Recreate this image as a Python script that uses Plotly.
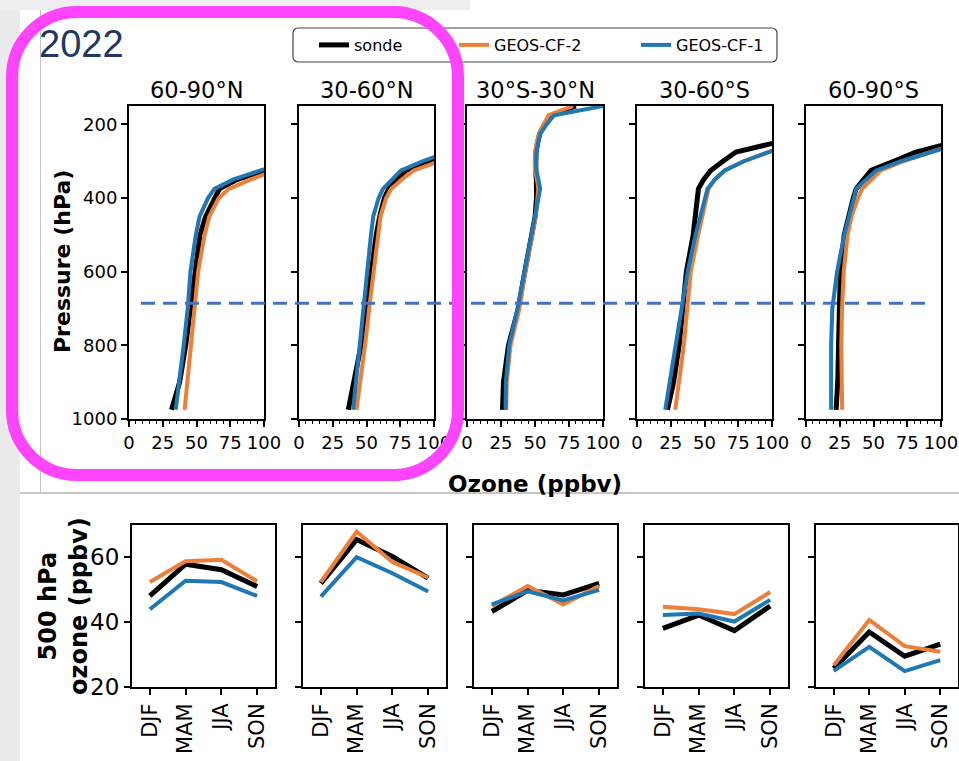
import plotly.graph_objects as go

W, H = 959, 761

# ---------------- data ----------------
regions = ["60-90°N", "30-60°N", "30°S-30°N", "30-60°S", "60-90°S"]
series_names = ["sonde", "GEOS-CF-2", "GEOS-CF-1"]
pressure = [975, 900, 800, 700, 600, 500, 450, 400, 375, 350, 325, 300, 275, 250, 225, 200, 175, 150]

sonde_6090N = [31.5, 37.5, 42, 45.7, 48.7, 52.6, 56.8, 63.3, 67, 80, 97, 115, 130, 150, 170, 190, 210, 240]
cf2_6090N = [41.2, 43.1, 45.8, 48.5, 51.2, 56, 59.5, 66.5, 74, 90, 111, 125, 140, 160, 180, 200, 220, 250]
cf1_6090N = [34.6, 37.3, 40.5, 43.5, 45.5, 49.5, 52.3, 58.5, 63.3, 77, 94, 115, 130, 150, 170, 190, 210, 240]

sonde_3060N = [36.5, 40.5, 46, 49.8, 53.2, 57.2, 59.8, 63.2, 66.4, 71.8, 79.3, 97.8, 115, 130, 150, 170, 190, 210]
cf2_3060N = [42.6, 45.4, 48.9, 52, 55.2, 58.7, 60.3, 64.5, 68.4, 76, 85, 104, 120, 135, 155, 175, 195, 215]
cf1_3060N = [40.1, 42.2, 44.4, 47.4, 50.7, 53.3, 55, 59, 62.2, 68.8, 75.6, 91.5, 108, 125, 145, 165, 185, 205]

sonde_trop = [26.1, 26.8, 30.5, 37.7, 42.5, 47.6, 50.1, 51.1, 51.4, 51, 50.5, 50.5, 50.7, 52, 53.4, 57, 63, 80]
cf2_trop = [28.9, 29.2, 32, 38.5, 43, 48.2, 50.6, 51.8, 52.4, 51.5, 50, 49.8, 50, 51.2, 53, 56.5, 60, 78]
cf1_trop = [28.4, 28.6, 31, 37.2, 42.3, 47.4, 50, 52.5, 53.8, 52.5, 51, 50.8, 51, 52.2, 54, 58.5, 64, 100]

sonde_3060S = [22.6, 27.1, 31.2, 34.2, 36.6, 41.6, 42.8, 44.7, 45.5, 49.3, 54.6, 63.7, 73.3, 102, 125, 145, 165, 185]
cf2_3060S = [28.3, 31.2, 34.7, 37.2, 39.8, 45.3, 48.2, 50.9, 53, 57.7, 65, 79, 96, 113, 130, 150, 170, 190]
cf1_3060S = [20.9, 24.3, 29, 33.7, 37.5, 43.4, 46.7, 50, 52.2, 57.5, 65, 79.2, 95, 112, 130, 150, 170, 190]

sonde_6090S = [22.3, 23.5, 24.1, 24.7, 25.4, 28.3, 31.2, 35, 37.1, 42.6, 48.2, 65, 81.3, 108, 125, 145, 165, 185]
cf2_6090S = [26.8, 26.5, 26.1, 26.7, 27.9, 30.8, 33.7, 38.5, 41.5, 48.5, 55.5, 72, 93, 115, 135, 155, 175, 195]
cf1_6090S = [18.6, 18.6, 18.6, 19.5, 23, 28.4, 31.7, 35.3, 37.2, 44.4, 52, 70.5, 98.2, 120, 140, 160, 180, 200]

seasons = ["DJF", "MAM", "JJA", "SON"]
sonde_500 = [[48.1, 57.9, 56.2, 51], [52, 65.5, 60.3, 53.6], [43.3, 49.8, 48.4, 52],
             [38.1, 42.2, 37.4, 45], [25.7, 37, 29.5, 33.2]]
cf2_500 = [[52.4, 58.8, 59.3, 52.6], [52.4, 67.9, 58.6, 53.8], [45, 51.2, 45.5, 51.2],
           [44.8, 44, 42.5, 49.3], [26.7, 40.7, 32.6, 30.9]]
cf1_500 = [[44, 52.8, 52.4, 48.1], [47.9, 60.1, 55.1, 49.5], [45.5, 49.5, 46.7, 50],
           [42.2, 42.7, 40.2, 46.9], [25, 32.4, 24.9, 28.3]]

ref_pressure = 686  # dashed reference level

profiles = [
    [sonde_6090N, cf2_6090N, cf1_6090N],
    [sonde_3060N, cf2_3060N, cf1_3060N],
    [sonde_trop, cf2_trop, cf1_trop],
    [sonde_3060S, cf2_3060S, cf1_3060S],
    [sonde_6090S, cf2_6090S, cf1_6090S],
]
seasonal = [sonde_500, cf2_500, cf1_500]

# ---------------- style ----------------
colors = ["#000000", "#EC7F3A", "#1F77B4"]
widths = [5, 4, 4]
FONT = "DejaVu Sans"


def px(x):
    return x / W


def py(y):
    return 1 - y / H


top_x = [(129, 264), (299, 434), (467, 603), (637, 772), (806, 941)]
top_y = (106, 419)
bot_x = [(132, 275), (303, 446), (474, 617), (645, 788), (816, 958)]
bot_y = (525, 687)

fig = go.Figure()

for i in range(5):
    ax = "" if i == 0 else str(i + 1)
    for s in range(3):
        fig.add_trace(go.Scatter(
            x=profiles[i][s], y=pressure, mode="lines",
            line=dict(color=colors[s], width=widths[s]),
            name=series_names[s], showlegend=(i == 0),
            legendwidth=[95, 137, 95][s],
            xaxis="x" + ax, yaxis="y" + ax, hoverinfo="skip"))

for j in range(5):
    ax = str(j + 6)
    for s in range(3):
        fig.add_trace(go.Scatter(
            x=seasons, y=seasonal[s][j], mode="lines",
            line=dict(color=colors[s], width=widths[s]),
            name=series_names[s], showlegend=False,
            xaxis="x" + ax, yaxis="y" + ax, hoverinfo="skip"))

axis_common = dict(showline=True, linecolor="black", linewidth=2, mirror=True,
                   ticks="outside", tickcolor="black", tickwidth=1.5, showgrid=False,
                   zeroline=False, fixedrange=True, automargin=False)

layout = {}
for i in range(5):
    k = i + 1
    xs = "xaxis" if k == 1 else f"xaxis{k}"
    ys = "yaxis" if k == 1 else f"yaxis{k}"
    layout[xs] = dict(axis_common, domain=[px(top_x[i][0]), px(top_x[i][1])],
                      anchor="y" if k == 1 else f"y{k}",
                      range=[0, 100], tickvals=[0, 25, 50, 75, 100], ticklen=6,
                      tickfont=dict(family=FONT, size=18, color="black"),
                      minor=dict(ticks="outside", ticklen=3, tickwidth=1, tickcolor="black",
                                 dtick=5, tick0=0))
    layout[ys] = dict(axis_common, domain=[py(top_y[1]), py(top_y[0])],
                      anchor="x" if k == 1 else f"x{k}",
                      range=[1000, 150], tickvals=[200, 400, 600, 800, 1000], ticklen=6,
                      showticklabels=(k == 1),
                      tickfont=dict(family=FONT, size=18, color="black"))
for j in range(5):
    k = j + 6
    layout[f"xaxis{k}"] = dict(axis_common, domain=[px(bot_x[j][0]), px(bot_x[j][1])],
                               anchor=f"y{k}", type="category",
                               categoryorder="array", categoryarray=seasons,
                               range=[-0.5, 3.5], tickangle=-90, ticklen=6,
                               tickfont=dict(family=FONT, size=21, color="black"))
    layout[f"yaxis{k}"] = dict(axis_common, domain=[py(bot_y[1]), py(bot_y[0])],
                               anchor=f"x{k}", range=[20, 70], tickvals=[20, 40, 60],
                               ticklen=6, showticklabels=(j == 0),
                               tickfont=dict(family=FONT, size=23, color="black"))


def rounded_path(x0, y0, x1, y1, r):
    k = 0.5523 * r
    pts = [
        ("M", [(x0 + r, y0)]),
        ("L", [(x1 - r, y0)]),
        ("C", [(x1 - r + k, y0), (x1, y0 + r - k), (x1, y0 + r)]),
        ("L", [(x1, y1 - r)]),
        ("C", [(x1, y1 - r + k), (x1 - r + k, y1), (x1 - r, y1)]),
        ("L", [(x0 + r, y1)]),
        ("C", [(x0 + r - k, y1), (x0, y1 - r + k), (x0, y1 - r)]),
        ("L", [(x0, y0 + r)]),
        ("C", [(x0, y0 + r - k), (x0 + r - k, y0), (x0 + r, y0)]),
    ]
    out = []
    for cmd, ps in pts:
        out.append(cmd + " ".join(f"{px(a):.5f},{py(b):.5f}" for a, b in ps))
    return " ".join(out) + " Z"


shapes = [
    # page background pieces
    dict(type="rect", xref="paper", yref="paper", x0=px(0), x1=px(20), y0=py(761), y1=py(0),
         fillcolor="#EBEBEB", line=dict(width=0), layer="below"),
    dict(type="rect", xref="paper", yref="paper", x0=px(0), x1=px(470), y0=py(10), y1=py(0),
         fillcolor="#EEEEEE", line=dict(width=0), layer="below"),
    dict(type="line", xref="paper", yref="paper", x0=px(40.5), x1=px(40.5), y0=py(10), y1=py(493),
         line=dict(color="#C4C4C4", width=1), layer="below"),
    dict(type="line", xref="paper", yref="paper", x0=px(20), x1=px(959), y0=py(493), y1=py(493),
         line=dict(color="#C6C6C6", width=2), layer="below"),
    # dashed reference line
    dict(type="line", xref="paper", yref="y", x0=px(141), x1=px(926), y0=ref_pressure, y1=ref_pressure,
         line=dict(color="#4472C4", width=3, dash="14px,8px"), layer="above"),
    # legend frame
    dict(type="path", xref="paper", yref="paper", path=rounded_path(293, 28, 777, 62, 5),
         line=dict(color="#444444", width=1.2), fillcolor="white", layer="above"),
    # magenta highlight
    dict(type="path", xref="paper", yref="paper", path=rounded_path(12, 12, 458, 475, 65),
         line=dict(color="#FF44FF", width=12), layer="above"),
]

annotations = [
    dict(text="2022", x=px(37), y=py(44), xref="paper", yref="paper", xanchor="left",
         yanchor="middle", showarrow=False,
         font=dict(family="Liberation Sans", size=38, color="#1F3864")),
    dict(text="<b>Pressure (hPa)</b>", x=px(62), y=py(262), xref="paper", yref="paper",
         xanchor="center", yanchor="middle",
         textangle=-90, showarrow=False, font=dict(family=FONT, size=22, color="black")),
    dict(text="<b>Ozone (ppbv)</b>", x=px(535), y=py(484), xref="paper", yref="paper",
         xanchor="center", yanchor="middle",
         showarrow=False, font=dict(family=FONT, size=23, color="black")),
    dict(text="<b>500 hPa<br>ozone (ppbv)</b>", x=px(63), y=py(606), xref="paper", yref="paper",
         xanchor="center", yanchor="middle",
         textangle=-90, showarrow=False, font=dict(family=FONT, size=24, color="black")),
]
for i, r in enumerate(regions):
    annotations.append(dict(text=r, x=px((top_x[i][0] + top_x[i][1]) / 2), y=py(90),
                            xref="paper", yref="paper", showarrow=False,
                            xanchor="center", yanchor="middle",
                            font=dict(family=FONT, size=22.5, color="black")))

fig.update_layout(
    width=W, height=H, autosize=False,
    margin=dict(l=0, r=0, t=0, b=0, pad=0, autoexpand=False),
    paper_bgcolor="white", plot_bgcolor="rgba(0,0,0,0)",
    shapes=shapes, annotations=annotations,
    legend=dict(orientation="h", x=px(314), xanchor="left", y=py(45), yanchor="middle",
                bgcolor="rgba(0,0,0,0)", borderwidth=0,
                font=dict(family=FONT, size=16, color="black")),
    **layout,
)

post = ("document.documentElement.style.margin='0';"
        "document.body.style.margin='0';"
        "document.body.style.overflow='hidden';")
fig.write_html("out.html", post_script=post,
               config={"displayModeBar": False, "responsive": False})
